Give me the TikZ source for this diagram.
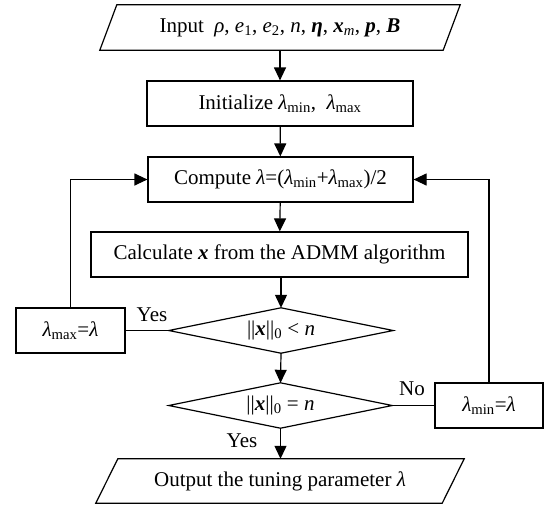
\documentclass[tikz,border=0pt]{standalone}
\usepackage{fontspec}
\setmainfont{Liberation Serif}
\usetikzlibrary{arrows.meta}
\newcommand{\lam}{\textit{λ}}
\newcommand{\sbs}[1]{\textsubscript{#1}}
\newcommand{\bv}[1]{\textbf{\textit{#1}}}
\begin{document}
\begin{tikzpicture}[x=1pt,y=-1pt,
  every node/.style={font=\fontsize{21}{25}\selectfont},
  holder/.style={draw=none,rectangle,inner sep=0pt,minimum height=45pt},
  procbox/.style={draw,line width=1.2pt,rectangle,inner sep=0pt,minimum height=45pt},
  outline/.style={draw,line width=1.2pt,line join=miter},
  arr/.style={line width=1.2pt,-{Triangle[length=13pt,width=12pt]}},
  link/.style={line width=1.2pt},
  lbl/.style={inner sep=0pt}]
\useasboundingbox (0,0) rectangle (545,504);

\node[holder,minimum width=343pt] (in) at (280,27.5)
  {Input\ \ \textit{ρ}, \textit{e}\sbs{1}, \textit{e}\sbs{2}, \textit{n}, \bv{η}, \bv{x}\sbs{\textit{m}}, \bv{p}, \bv{B}};
\draw[outline] ([xshift=-8.5pt]in.south west) -- ([xshift=8.5pt]in.north west)
  -- ([xshift=8.5pt]in.north east) -- ([xshift=-8.5pt]in.south east) -- cycle;

\node[procbox,minimum width=266pt] (init) at (280,103.5)
  {Initialize \lam\sbs{min},\ \ \lam\sbs{max}};
\node[procbox,minimum width=265pt] (comp) at (280.5,179.5)
  {Compute \lam=(\lam\sbs{min}+\lam\sbs{max})/2};
\node[procbox,minimum width=377pt] (calc) at (279.5,254.5)
  {Calculate \bv{x} from the ADMM algorithm};

\node[holder,minimum width=224pt] (d1) at (281,330.5)
  {||\bv{x}||\sbs{0} < \textit{n}};
\draw[outline] (d1.west) -- (d1.north) -- (d1.east) -- (d1.south) -- cycle;
\node[holder,minimum width=223pt] (d2) at (280.5,405.5)
  {||\bv{x}||\sbs{0} = \textit{n}};
\draw[outline] (d2.west) -- (d2.north) -- (d2.east) -- (d2.south) -- cycle;

\node[procbox,minimum width=109pt] (lmax) at (70.5,330.5) {\lam\sbs{max}=\lam};
\node[procbox,minimum width=108pt] (lmin) at (489,405.5) {\lam\sbs{min}=\lam};

\node[holder,minimum width=346pt,minimum height=44pt] (out) at (280,481)
  {Output the tuning parameter \lam};
\draw[outline] ([xshift=-11pt]out.south west) -- ([xshift=11pt]out.north west)
  -- ([xshift=11pt]out.north east) -- ([xshift=-11pt]out.south east) -- cycle;

\draw[arr] (in) -- (init);
\draw[arr] (init) -- (comp);
\draw[arr] (comp) -- (calc);
\draw[arr] (calc.south -| d1.north) -- (d1.north);
\draw[arr] (d1.south) -- (d2.north);
\draw[arr] (d2.south) -- (out.north -| d2.south);
\draw[link] (d1.west) -- (lmax.east);
\draw[link] (d2.east) -- (lmin.west);
\draw[arr] (lmax.north) |- (comp.west);
\draw[arr] (lmin.north) |- (comp.east);

\node[lbl] (yes1) at (152,315) {Yes};
\node[lbl] (no1) at (412,389) {No};
\node[lbl] (yes2) at (242,441) {Yes};
\end{tikzpicture}
\end{document}
